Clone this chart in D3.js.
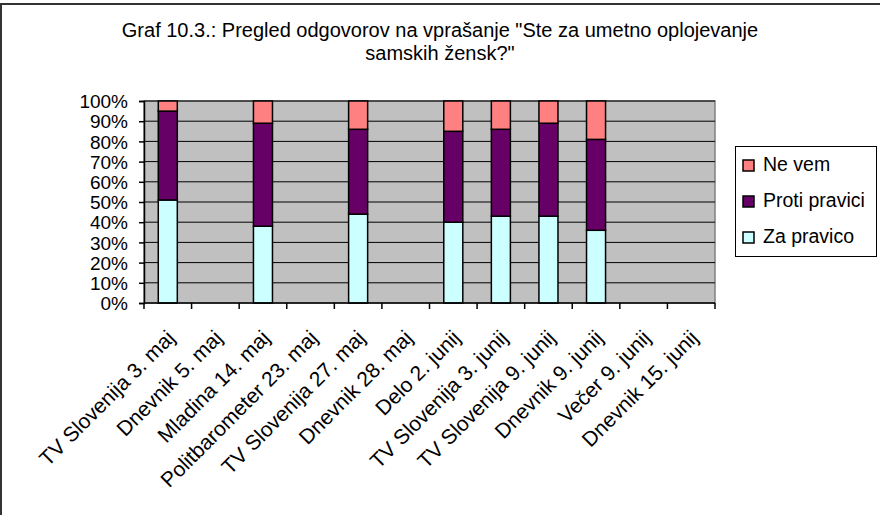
<!DOCTYPE html>
<html>
<head>
<meta charset="utf-8">
<script src="https://cdn.jsdelivr.net/npm/d3@7"></script>
<style>
  html, body { margin: 0; background: #fff; overflow: hidden; }
  svg { display: block; }
  text { font-family: "Liberation Sans", Arial, sans-serif; fill: #000; }
</style>
</head>
<body>
<div id="chart"></div>
<script>
const categories = [
    "TV Slovenija 3. maj",
    "Dnevnik 5. maj",
    "Mladina 14. maj",
    "Politbarometer 23. maj",
    "TV Slovenija 27. maj",
    "Dnevnik 28. maj",
    "Delo 2. junij",
    "TV Slovenija 3. junij",
    "TV Slovenija 9. junij",
    "Dnevnik 9. junij",
    "Večer 9. junij",
    "Dnevnik 15. junij"
];
// null = no data for that poll
const zaPravico    = [51, null, 38, null, 44, null, 40, 43, 43, 36, null, null];
const protiPravici = [44, null, 51, null, 42, null, 45, 43, 46, 45, null, null];
const neVem        = [5,  null, 11, null, 14, null, 15, 14, 11, 19, null, null];
const yTicks = [0, 10, 20, 30, 40, 50, 60, 70, 80, 90, 100];

const seriesNames = ["Za pravico", "Proti pravici", "Ne vem"];
const colors = ["#CCFFFF", "#660066", "#FF8080"];

const width = 880;
const height = 515;
const plot = { left: 144, right: 715, top: 101, bottom: 303 };

const svg = d3.select("#chart")
    .append("svg")
    .attr("width", width)
    .attr("height", height);

// outer chart frame: only the top and left edges fall inside the picture
svg.append("path")
    .attr("d", `M1,${height} L1,4 L${width},4`)
    .attr("fill", "none")
    .attr("stroke", "#333")
    .attr("stroke-width", 2);

// title
const title = svg.append("text")
    .attr("text-anchor", "middle")
    .attr("font-size", "20px");
title.append("tspan").attr("x", 440).attr("y", 37)
    .text("Graf 10.3.: Pregled odgovorov na vprašanje \"Ste za umetno oplojevanje");
title.append("tspan").attr("x", 440).attr("y", 60)
    .text("samskih žensk?\"");

const rows = categories.map((c, i) => ({
    cat: c,
    "Za pravico": zaPravico[i],
    "Proti pravici": protiPravici[i],
    "Ne vem": neVem[i]
}));

const x = d3.scaleBand()
    .domain(categories)
    .range([plot.left, plot.right])
    .paddingInner(0.6)
    .paddingOuter(0.3);

const y = d3.scaleLinear()
    .domain([0, 100])
    .range([plot.bottom, plot.top]);

// plot background
svg.append("rect")
    .attr("x", plot.left)
    .attr("y", plot.top)
    .attr("width", plot.right - plot.left)
    .attr("height", plot.bottom - plot.top)
    .attr("fill", "#C0C0C0")
    .attr("stroke", "#808080")
    .attr("stroke-width", 1.5);

// gridlines
svg.append("g")
    .selectAll("line")
    .data(yTicks.slice(1))
    .enter()
    .append("line")
    .attr("x1", plot.left)
    .attr("x2", plot.right)
    .attr("y1", d => y(d))
    .attr("y2", d => y(d))
    .attr("stroke", "#000")
    .attr("stroke-width", 1);

// stacked bars
const stack = d3.stack().keys(seriesNames);
const stacked = stack(rows.filter(r => r["Za pravico"] != null));

svg.append("g")
    .selectAll("g")
    .data(stacked)
    .enter()
    .append("g")
    .attr("fill", (d, i) => colors[i])
    .selectAll("rect")
    .data(d => d)
    .enter()
    .append("rect")
    .attr("x", d => x(d.data.cat))
    .attr("width", x.bandwidth())
    .attr("y", d => y(d[1]))
    .attr("height", d => y(d[0]) - y(d[1]))
    .attr("stroke", "#000")
    .attr("stroke-width", 1.5);

// y axis
const yAxis = svg.append("g")
    .attr("transform", `translate(${plot.left},0)`)
    .call(d3.axisLeft(y).tickValues(yTicks).tickFormat(d => d + "%").tickSize(5).tickPadding(11));
yAxis.select(".domain").attr("stroke", "#000").attr("stroke-width", 1.5);
yAxis.selectAll(".tick line").attr("stroke", "#000").attr("stroke-width", 1.5);
yAxis.selectAll("text")
    .attr("font-family", "Liberation Sans, Arial, sans-serif")
    .attr("font-size", "19px")
    .attr("fill", "#000")
    .attr("dy", "0.35em");

// x axis line + ticks at category boundaries
const step = x.step();
const bounds = categories.map(c => x(c) - step * 0.3).concat([plot.right]);
svg.append("line")
    .attr("x1", plot.left).attr("x2", plot.right)
    .attr("y1", plot.bottom).attr("y2", plot.bottom)
    .attr("stroke", "#000").attr("stroke-width", 1.5);
svg.append("g")
    .selectAll("line")
    .data(bounds)
    .enter()
    .append("line")
    .attr("x1", d => d).attr("x2", d => d)
    .attr("y1", plot.bottom).attr("y2", plot.bottom + 6)
    .attr("stroke", "#000").attr("stroke-width", 1.5);

// x labels
svg.append("g")
    .selectAll("text")
    .data(categories)
    .enter()
    .append("text")
    .attr("text-anchor", "end")
    .attr("font-size", "21px")
    .attr("dy", "0.35em")
    .attr("transform", d => `translate(${x(d) + x.bandwidth() / 2 + 3},${plot.bottom + 31}) rotate(-45)`)
    .text(d => d);

// legend
const legend = svg.append("g");
legend.append("rect")
    .attr("x", 735.5).attr("y", 146.5)
    .attr("width", 141).attr("height", 110)
    .attr("fill", "#fff")
    .attr("stroke", "#000")
    .attr("stroke-width", 1);

const legendOrder = [2, 1, 0];
const items = legend.selectAll("g.item")
    .data(legendOrder)
    .enter()
    .append("g")
    .attr("class", "item")
    .attr("transform", (d, i) => `translate(743,${171 + i * 36})`);
items.append("rect")
    .attr("x", 0).attr("y", -11)
    .attr("width", 11).attr("height", 11)
    .attr("fill", d => colors[d])
    .attr("stroke", "#000")
    .attr("stroke-width", 1.5);
items.append("text")
    .attr("x", 20).attr("y", 0)
    .attr("font-size", "19.5px")
    .text(d => seriesNames[d]);
</script>
</body>
</html>
